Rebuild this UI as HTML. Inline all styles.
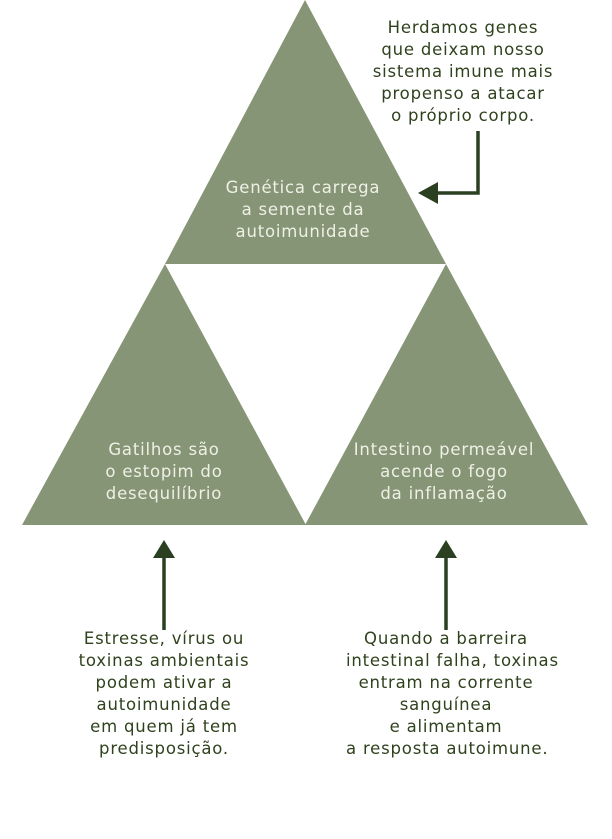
<!DOCTYPE html>
<html><head><style>
body{margin:0;background:#fff;width:612px;height:839px;overflow:hidden;font-family:"DejaVu Sans",sans-serif}
.t{position:absolute;text-align:center;font-size:16.5px;letter-spacing:0.8px;line-height:22px;white-space:nowrap}
.in{color:#eef0e6}
.out{color:#2f421d}
</style></head><body>
<svg width="612" height="839" style="position:absolute;left:0;top:0">
<polygon points="305,0 446,264 165,264" fill="#869575"/>
<polygon points="165,264 306,525 22,525" fill="#869575"/>
<polygon points="446,264 588,525 305,525" fill="#869575"/>
<g stroke="#2a4020" stroke-width="3.5" fill="none">
<polyline points="478,131 478,193 436,193"/>
<line x1="164" y1="630" x2="164" y2="555"/>
<line x1="446" y1="630" x2="446" y2="555"/>
</g>
<g fill="#2a4020">
<polygon points="418,193 438,182 438,204"/>
<polygon points="164,540 153,558 175,558"/>
<polygon points="446,540 435,558 457,558"/>
</g>
</svg>
<div class="t in" style="left:203px;width:200px;top:177px">Genética carrega<br>a semente da<br>autoimunidade</div>
<div class="t in" style="left:64px;width:200px;top:439px">Gatilhos são<br>o estopim do<br>desequilíbrio</div>
<div class="t in" style="left:344px;width:200px;top:439px">Intestino permeável<br>acende o fogo<br>da inflamação</div>
<div class="t out" style="left:363px;width:200px;top:17px">Herdamos genes<br>que deixam nosso<br>sistema imune mais<br>propenso a atacar<br>o próprio corpo.</div>
<div class="t out" style="left:64px;width:200px;top:628px">Estresse, vírus ou<br>toxinas ambientais<br>podem ativar a<br>autoimunidade<br>em quem já tem<br>predisposição.</div>
<div class="t out" style="left:346px;width:200px;top:628px">Quando a barreira<br>intestinal falha, toxinas<br>entram na corrente<br>sanguínea<br>e alimentam<br>a resposta autoimune.</div>
</body></html>
